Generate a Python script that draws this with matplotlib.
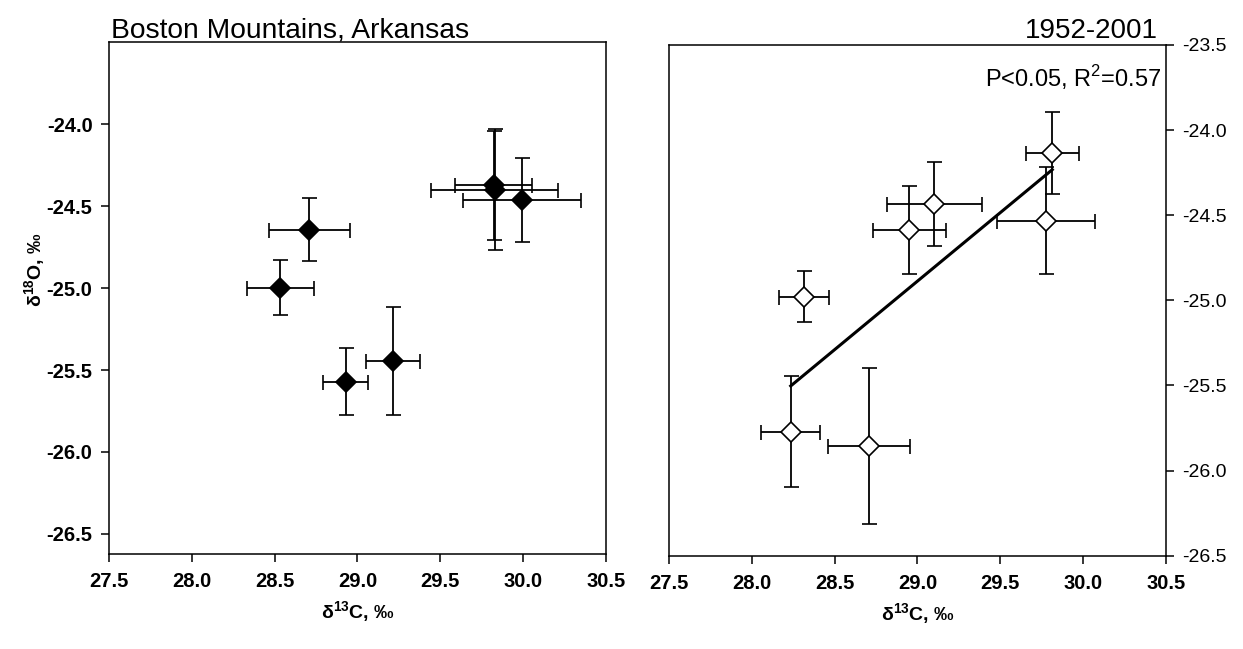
import numpy as np
import matplotlib
matplotlib.use('Agg')
import matplotlib.pyplot as plt

plt.rcParams['font.family'] = ['Liberation Sans', 'DejaVu Sans']
plt.rcParams['mathtext.fontset'] = 'custom'
plt.rcParams['mathtext.rm'] = 'Liberation Sans'
plt.rcParams['mathtext.bf'] = 'Liberation Sans:bold'
plt.rcParams['axes.unicode_minus'] = False

# left panel (filled diamonds)
left_x = [28.71, 28.533, 28.929, 29.215, 29.829, 29.822, 29.996]
left_y = [-24.645, -24.998, -25.571, -25.445, -24.399, -24.373, -24.462]
left_xerr = [0.246, 0.202, 0.135, 0.161, 0.382, 0.235, 0.357]
left_yerr = [0.192, 0.168, 0.206, 0.329, 0.369, 0.332, 0.255]

# right panel (open diamonds)
right_x = [28.317, 28.235, 28.707, 28.951, 29.101, 29.814, 29.776]
right_y = [-24.979, -25.772, -25.854, -24.587, -24.434, -24.133, -24.532]
right_xerr = [0.152, 0.179, 0.249, 0.222, 0.287, 0.160, 0.295]
right_yerr = [0.149, 0.327, 0.458, 0.260, 0.248, 0.241, 0.316]

x_ticks = [27.5, 28.0, 28.5, 29.0, 29.5, 30.0, 30.5]
left_yticks = [-24.0, -24.5, -25.0, -25.5, -26.0, -26.5]
right_yticks = [-23.5, -24.0, -24.5, -25.0, -25.5, -26.0, -26.5]

fig = plt.figure(figsize=(12.43, 6.49), dpi=100)
ax1 = fig.add_axes([0.0879, 0.1471, 0.3994, 0.7877])
ax2 = fig.add_axes([0.5382, 0.1438, 0.3998, 0.7869])

err_kw = dict(fmt='D', ms=10.5, mec='black', ecolor='black', elinewidth=1.3,
              capsize=5.4, capthick=1.3, mew=1.2)

ax1.errorbar(left_x, left_y, xerr=left_xerr, yerr=left_yerr, mfc='black', **err_kw)
ax2.errorbar(right_x, right_y, xerr=right_xerr, yerr=right_yerr, mfc='white', **err_kw)

# regression line for the right panel
slope, intercept = np.polyfit(right_x, right_y, 1)
fit_x = np.array([min(right_x), max(right_x)])
ax2.plot(fit_x, slope * fit_x + intercept, color='black', lw=2.2, zorder=4)

for ax in (ax1, ax2):
    ax.set_xlim(27.5, 30.5)
    ax.set_xticks(x_ticks)
    ax.set_xticklabels(['%.1f' % t for t in x_ticks], fontsize=14.5, fontweight='bold')
    for s in ax.spines.values():
        s.set_linewidth(1.1)
    ax.tick_params(direction='out', length=5.5, width=1.1)
    ax.tick_params(axis='x', pad=8)
    ax.text(0.5, -0.115, r'δ$^{\mathbf{13}}$C, ‰', transform=ax.transAxes,
            ha='center', va='center', fontsize=14, fontweight='bold')

ax1.set_ylim(-26.62, -23.5)
ax1.set_yticks(left_yticks)
ax1.set_yticklabels(['%.1f' % t for t in left_yticks], fontsize=14.5, fontweight='bold')
ax1.tick_params(axis='y', pad=6.5)

ax2.set_ylim(-26.5, -23.5)
ax2.yaxis.tick_right()
ax2.set_yticks(right_yticks)
ax2.set_yticklabels(['%.1f' % t for t in right_yticks], fontsize=14)
ax2.tick_params(axis='y', pad=6)

fig.text(35 / 1243, 0.584, r'δ$^{\mathbf{18}}$O, ‰', rotation=90, ha='center', va='center',
         fontsize=14, fontweight='bold')
fig.text(0.089, 0.9422, 'Boston Mountains, Arkansas', fontsize=20.3, ha='left', va='baseline')
fig.text(0.9313, 0.9422, '1952-2001', fontsize=20, ha='right', va='baseline')
fig.text(0.9345, 0.866, r'P<0.05, R$^2$=0.57', fontsize=17, ha='right', va='baseline')

plt.savefig('out.png', dpi=100)
